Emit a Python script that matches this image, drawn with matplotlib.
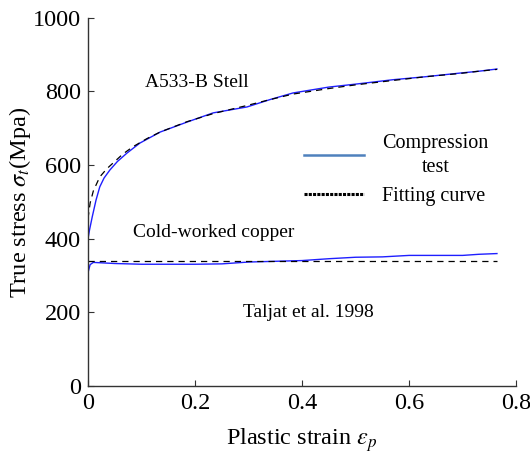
import matplotlib
matplotlib.use("Agg")
import matplotlib.pyplot as plt
from matplotlib.lines import Line2D

# A533-B steel, compression test
steel_eps = [0.0, 0.003, 0.008, 0.015, 0.022, 0.03, 0.041, 0.055, 0.073, 0.097,
             0.135, 0.185, 0.234, 0.297, 0.34, 0.383, 0.45, 0.5, 0.57, 0.63,
             0.695, 0.73, 0.764]
steel_test = [400, 425, 460, 505, 541, 565, 587, 610, 633, 660,
              690, 717, 742, 758, 778, 796, 812, 820, 832, 840,
              850, 855, 861]

# A533-B steel, fitting curve
fit_eps = [0.0, 0.004, 0.01, 0.022, 0.035, 0.047, 0.065, 0.084, 0.11, 0.135,
           0.185, 0.234, 0.297, 0.34, 0.383, 0.45, 0.5, 0.57, 0.63, 0.695,
           0.73, 0.764]
fit_steel = [455, 497, 530, 568, 590, 606, 630, 650, 672, 690,
             718, 740, 762, 778, 793, 808, 818, 830, 840, 849,
             855, 860]

# Cold-worked copper
cu_eps = [0.0, 0.004, 0.01, 0.05, 0.1, 0.2, 0.25, 0.3, 0.35, 0.4, 0.45,
          0.5, 0.55, 0.6, 0.65, 0.7, 0.73, 0.764]
cu_test = [308, 330, 336, 333, 331, 331, 332, 337, 339, 341, 346,
           350, 351, 355, 355, 355, 358, 360]
cu_fit_eps = [0.0, 0.764]
cu_fit = [341, 341]

plt.rcParams["font.family"] = ["Liberation Serif", "DejaVu Serif"]
plt.rcParams["mathtext.fontset"] = "stix"

fig = plt.figure(figsize=(5.30, 4.57), dpi=100)
ax = fig.add_axes([0.166, 0.155, 0.808, 0.806])

blue = "#1f1fff"
ax.plot(steel_eps, steel_test, color=blue, linewidth=1.0)
ax.plot(fit_eps, fit_steel, color="black", linestyle=(0, (5, 4)), linewidth=0.9)
ax.plot(cu_eps, cu_test, color=blue, linewidth=1.0)
ax.plot(cu_fit_eps, cu_fit, color="black", linestyle=(0, (5, 4)), linewidth=0.9)

ax.set_xlim(0, 0.8)
ax.set_ylim(0, 1000)
ax.set_xticks([0, 0.2, 0.4, 0.6, 0.8])
ax.set_xticklabels(["0", "0.2", "0.4", "0.6", "0.8"])
ax.set_yticks([0, 200, 400, 600, 800, 1000])
ax.tick_params(direction="in", labelsize=17.5, length=4, width=0.8,
               color="#333333", pad=5)
ax.spines["top"].set_visible(False)
ax.spines["right"].set_visible(False)
for s in ("left", "bottom"):
    ax.spines[s].set_color("#333333")
    ax.spines[s].set_linewidth(1.0)

ax.set_xlabel(r"Plastic strain $\varepsilon_p$", fontsize=17.5, labelpad=9)
ax.set_ylabel(r"True stress $\sigma_t$(Mpa)", fontsize=17.5, labelpad=0)

ax.text(0.107, 812, "A533-B Stell", fontsize=14)
ax.text(0.084, 405, "Cold-worked copper", fontsize=14)
ax.text(0.29, 188, "Taljat et al. 1998", fontsize=14)

handles = [
    Line2D([], [], color="#4f81bd", linewidth=1.8),
    Line2D([], [], color="black", linestyle=(0, (1, 0.4)), linewidth=2.2),
]
leg = ax.legend(handles, ["Compression\ntest", "Fitting curve"],
                loc="upper left", bbox_to_anchor=(0.462, 0.735), frameon=False,
                fontsize=14.5, handlelength=3.0, handletextpad=0.9,
                labelspacing=0.5)
for t in leg.get_texts():
    t.set_multialignment("center")
    t.set_linespacing(1.4)

fig.savefig("out.png", dpi=100)
